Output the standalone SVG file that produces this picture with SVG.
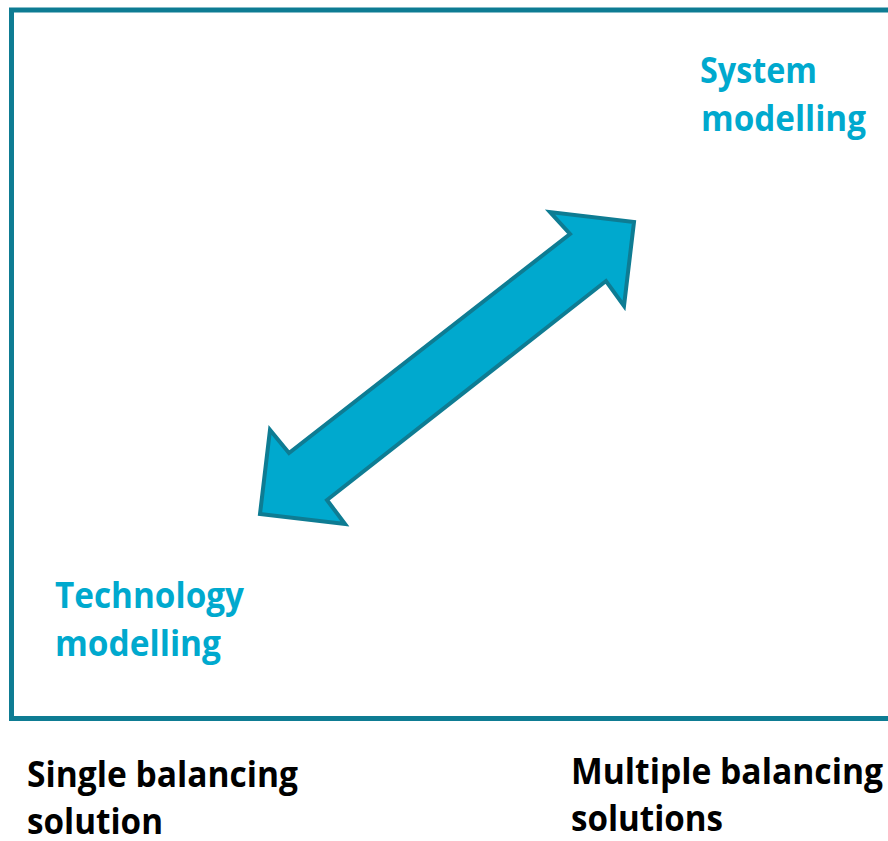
<svg xmlns="http://www.w3.org/2000/svg" width="888" height="841" viewBox="0 0 888 841">
<style>
.lbl{font-family:"Open Sans","Liberation Sans",sans-serif;font-weight:bold;font-size:35px}
.cy{fill:#00A9CE}
.bk{fill:#000000}
</style>
<rect x="0" y="0" width="888" height="841" fill="#ffffff"/>
<g id="frame">
<polyline points="895,10 11.5,10 11.5,718.5 895,718.5" fill="none" stroke="#0E7C93" stroke-width="5"/>
</g>
<g id="connectors">
<polygon points="634,222 624,306 606,281 327,500 345,524 260,514 270,430 289,453 570,234 550,212" fill="#00A9CE" stroke="#0E7C93" stroke-width="4" stroke-linejoin="miter"/>
</g>
<g id="system-modelling">
<text class="lbl cy" x="700" y="83" textLength="117" lengthAdjust="spacingAndGlyphs">System</text>
<text class="lbl cy" x="701" y="131" textLength="165" lengthAdjust="spacingAndGlyphs">modelling</text>
</g>
<g id="technology-modelling">
<text class="lbl cy" x="55" y="608" textLength="189" lengthAdjust="spacingAndGlyphs">Technology</text>
<text class="lbl cy" x="55" y="656" textLength="166" lengthAdjust="spacingAndGlyphs">modelling</text>
</g>
<g id="single-balancing">
<text class="lbl bk" x="27" y="787" textLength="271" lengthAdjust="spacingAndGlyphs">Single balancing</text>
<text class="lbl bk" x="27" y="834" textLength="136" lengthAdjust="spacingAndGlyphs">solution</text>
</g>
<g id="multiple-balancing">
<text class="lbl bk" x="571" y="784" textLength="312" lengthAdjust="spacingAndGlyphs">Multiple balancing</text>
<text class="lbl bk" x="571" y="831" textLength="152" lengthAdjust="spacingAndGlyphs">solutions</text>
</g>
</svg>
